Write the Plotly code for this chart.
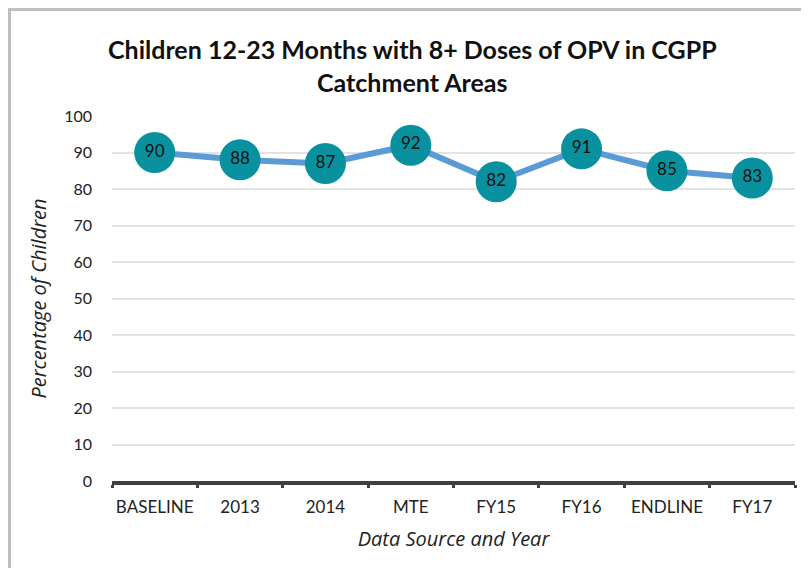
import plotly.graph_objects as go

categories = ["BASELINE", "2013", "2014", "MTE", "FY15", "FY16", "ENDLINE", "FY17"]
values = [90, 88, 87, 92, 82, 91, 85, 83]
y_ticks = [0, 10, 20, 30, 40, 50, 60, 70, 80, 90, 100]

# page body has an 8px default margin, so the figure is drawn 8px in from the top-left
W, H = 801, 560
ml, mr, mt, mb = 104, 14, 108, 87
pw, ph = W - ml - mr, H - mt - mb

FONT = "Lato, Open Sans, sans-serif"
TFONT = "Open Sans, Lato, sans-serif"

fig = go.Figure()
fig.add_trace(go.Scatter(
    x=categories, y=values, mode="lines+markers+text",
    line=dict(color="#5B9BD5", width=6),
    marker=dict(size=41, color="#0A919F", line=dict(width=0)),
    text=[str(v) for v in values], textposition="middle center",
    textfont=dict(family=FONT, size=17, color="#111111"),
    cliponaxis=False, showlegend=False,
))

fig.update_layout(
    width=W, height=H,
    margin=dict(l=ml, r=mr, t=mt, b=mb, autoexpand=False),
    paper_bgcolor="white", plot_bgcolor="white",
    xaxis=dict(
        type="category", tickson="boundaries", automargin=False, tickangle=0,
        ticks="outside", ticklen=3, tickwidth=3, tickcolor="#404040",
        showline=True, linecolor="#404040", linewidth=4,
        showgrid=False, zeroline=False, ticklabelstandoff=8,
        tickfont=dict(family=FONT, size=17, color="#222222"),
        title=dict(text="<i>Data Source and Year</i>", standoff=17,
                   font=dict(family=TFONT, size=20, color="#222222")),
        range=[-0.5, 7.5],
    ),
    yaxis=dict(
        range=[0, 100], tickvals=y_ticks, ticks="", automargin=False,
        showgrid=True, gridcolor="#E3E3E3", gridwidth=2,
        zeroline=False, showline=False,
        tickfont=dict(family=FONT, size=16, color="#222222"),
        ticklabelstandoff=19,
        title=dict(text="<i>Percentage of Children</i>", standoff=12,
                   font=dict(family=TFONT, size=20, color="#222222")),
    ),
    annotations=[dict(
        text="<b>Children 12-23 Months with 8+ Doses of OPV in CGPP<br>Catchment Areas</b>",
        xref="paper", yref="paper", x=(W / 2 + 4 - ml) / pw, xanchor="center",
        y=(ph + mt - 58) / ph, yanchor="middle", showarrow=False,
        font=dict(family=FONT, size=25, color="#111111"),
    )],
    shapes=[dict(
        type="rect", xref="paper", yref="paper",
        x0=(1.5 - ml) / pw, x1=(W + 20 - ml) / pw,
        y0=-(mb + 20) / ph, y1=(ph + mt - 1.5) / ph,
        line=dict(color="#BFBFBF", width=3), fillcolor="rgba(0,0,0,0)", layer="below",
    )],
)

fig.write_html("out.html")
